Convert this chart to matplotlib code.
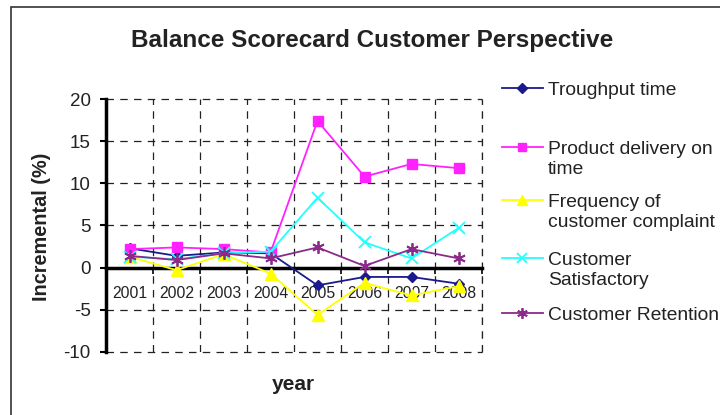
import matplotlib
matplotlib.use("Agg")
import matplotlib.pyplot as plt
import numpy as np
from matplotlib.patches import Rectangle
from matplotlib.lines import Line2D

plt.rcParams['font.family'] = ['Liberation Sans', 'DejaVu Sans']

years = ['2001', '2002', '2003', '2004', '2005', '2006', '2007', '2008']
troughput = [2.3, 1.4, 1.8, 1.7, -2.1, -1.1, -1.1, -1.9]
delivery = [2.2, 2.4, 2.2, 1.8, 17.4, 10.8, 12.3, 11.8]
complaints = [1.3, -0.3, 1.6, -0.7, -5.6, -1.8, -3.3, -2.2]
satisfactory = [1.3, 1.0, 1.7, 1.9, 8.3, 3.0, 1.1, 4.7]
retention = [1.4, 0.9, 1.7, 1.1, 2.4, 0.2, 2.2, 1.1]

labels = ['Troughput time', 'Product delivery on\ntime',
          'Frequency of\ncustomer complaint', 'Customer\nSatisfactory',
          'Customer Retention']
yticks = [-10, -5, 0, 5, 10, 15, 20]

fig = plt.figure(figsize=(7.2, 4.15), dpi=100)
fig.patches.append(Rectangle((11/720, -0.5), 2, 1.5 - 7/415, transform=fig.transFigure,
                             fill=False, edgecolor='#333333', linewidth=1.2))
ax = fig.add_axes([106/720, 1 - 352/415, 376/720, 253/415])
x = np.arange(len(years))

styles = [
    dict(color='#1a1a8c', marker='D', markersize=5.5),
    dict(color='#ff22ff', marker='s', markersize=7.5),
    dict(color='#ffff00', marker='^', markersize=8.5),
    dict(color='#22ffff', marker='x', markersize=8, markeredgewidth=1.3),
    dict(color='#8b2a8b', marker=(6, 2, 0), markersize=9, markeredgewidth=1.3),
]
series = [troughput, delivery, complaints, satisfactory, retention]
for s, st, lab in zip(series, styles, labels):
    ax.plot(x, s, linewidth=1.3, label=lab, clip_on=False, **st)

ax.set_xlim(-0.5, len(years) - 0.5)
ax.set_ylim(-10, 20)
ax.set_yticks(yticks)
ax.set_yticklabels([str(v) for v in yticks])
ax.set_xticks(x)
ax.set_xticklabels(years)
ax.set_xticks(np.arange(-0.5, len(years), 1), minor=True)
ax.tick_params(axis='x', which='major', length=0, pad=13, labelsize=11.3, labelcolor='#222222')
ax.tick_params(axis='x', which='minor', length=4, width=1.2, direction='out')
ax.tick_params(axis='y', length=4, width=1.5, direction='out', pad=7, labelsize=13.5,
               labelcolor='#222222')

ax.spines['top'].set_visible(False)
ax.spines['right'].set_visible(False)
ax.spines['bottom'].set_position(('data', 0))
ax.spines['bottom'].set_linewidth(2.5)
ax.spines['left'].set_linewidth(2.5)
ax.spines['bottom'].set_zorder(1)

for v in yticks:
    if v != 0:
        ax.axhline(v, color='#222222', linestyle=(0, (6, 5)), linewidth=0.9, zorder=0.5, clip_on=False)
for v in np.arange(0.5, len(years), 1):
    ax.axvline(v, color='#222222', linestyle=(0, (6, 5)), linewidth=0.9, zorder=0.5)
ax.plot([len(years) - 0.5] * 2, [-10, 20], color='#222222', linestyle=(0, (6, 5)),
        linewidth=0.9, zorder=0.5, clip_on=False)

fig.text(372/720, 1 - 40/415, 'Balance Scorecard Customer Perspective', ha='center', va='center',
         fontsize=17.5, fontweight='bold', color='#222222')
fig.text(42/720, 1 - 227/415, 'Incremental (%)', rotation=90, ha='center', va='center',
         fontsize=14.3, fontweight='bold', color='#222222')
fig.text(293/720, 1 - 384/415, 'year', ha='center', va='center',
         fontsize=15, fontweight='bold', color='#222222')

# manual legend (handle aligned with the first text line, as in the original)
leg_y = [88, 147, 200, 258, 313]
for st, lab, yy in zip(styles, labels, leg_y):
    yf = 1 - yy / 415
    fig.add_artist(Line2D([502/720, 543/720], [yf, yf], transform=fig.transFigure,
                          linewidth=1.3, color=st['color']))
    mst = {k: v for k, v in st.items() if k != 'color'}
    fig.add_artist(Line2D([522/720], [yf], transform=fig.transFigure, linestyle='none',
                          color=st['color'], **{**mst, 'markersize': mst['markersize'] * 0.85}))
    fig.text(548/720, yf + 6/415, lab, ha='left', va='top', fontsize=13.9,
             linespacing=1.2, color='#222222')

fig.savefig('out.png', dpi=100)
